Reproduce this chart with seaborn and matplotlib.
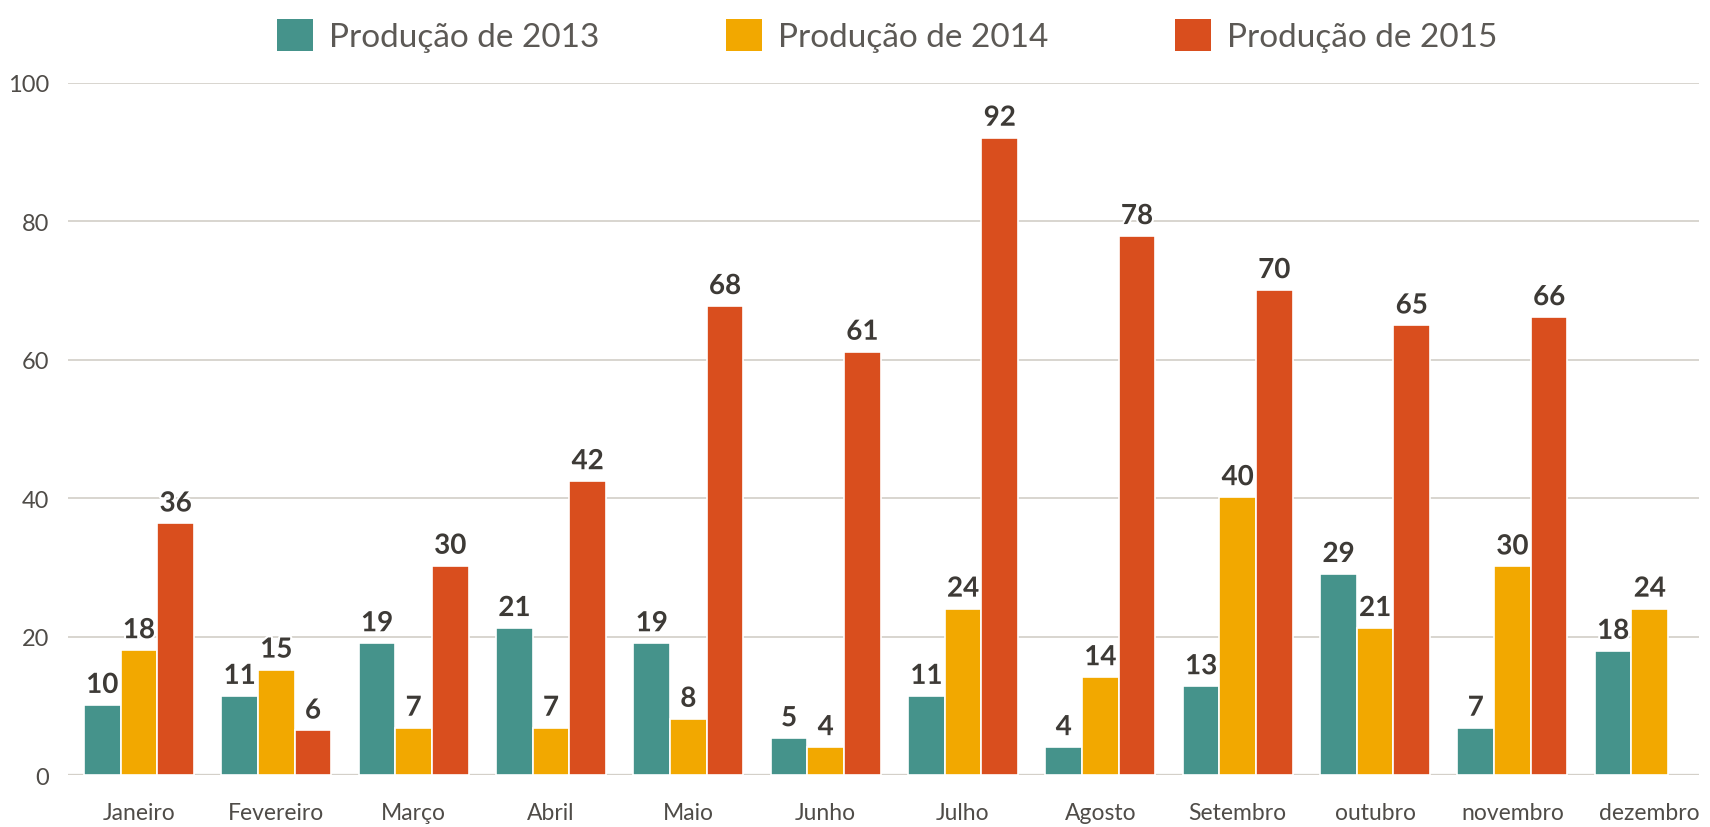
import numpy as np
import pandas as pd
import matplotlib
matplotlib.use("Agg")
import matplotlib.pyplot as plt
import matplotlib.patheffects as pe
from matplotlib.patches import Patch
import seaborn as sns

meses = ["Janeiro", "Fevereiro", "Março", "Abril", "Maio", "Junho", "Julho",
         "Agosto", "Setembro", "outubro", "novembro", "dezembro"]
series = ["Produção de 2013", "Produção de 2014", "Produção de 2015"]
prod_2013 = [10.2, 11.5, 19.1, 21.3, 19.1, 5.4, 11.5, 4.1, 12.9, 29.1, 6.9, 18.0]
prod_2014 = [18.1, 15.3, 6.9, 6.9, 8.2, 4.1, 24.1, 14.2, 40.2, 21.3, 30.2, 24.1]
prod_2015 = [36.4, 6.5, 30.3, 42.5, 67.8, 61.2, 92.1, 77.9, 70.1, 65.0, 66.2, np.nan]
rot_2013 = ["10", "11", "19", "21", "19", "5", "11", "4", "13", "29", "7", "18"]
rot_2014 = ["18", "15", "7", "7", "8", "4", "24", "14", "40", "21", "30", "24"]
rot_2015 = ["36", "6", "30", "42", "68", "61", "92", "78", "70", "65", "66", ""]
y_ticks = [0, 20, 40, 60, 80, 100]
cores = ["#45938b", "#f2a800", "#d94e1e"]

df = pd.DataFrame({
    "mes": meses * 3,
    "serie": [series[0]] * 12 + [series[1]] * 12 + [series[2]] * 12,
    "valor": prod_2013 + prod_2014 + prod_2015,
})

sns.set_style("white")
plt.rcParams["font.family"] = ["Lato", "DejaVu Sans"]

fig = plt.figure(figsize=(17.10, 8.28), dpi=100)
ax = fig.add_axes([0.0395, 0.0622, 0.9542, 0.8364])

sns.barplot(data=df, x="mes", y="valor", hue="serie", order=meses,
            hue_order=series, palette=cores, width=0.8, saturation=1,
            edgecolor="white", linewidth=1.2, ax=ax, legend=False)

for cont, rot in zip(ax.containers, [rot_2013, rot_2014, rot_2015]):
    for bar, r in zip(cont, rot):
        if bar is None or not r:
            continue
        h = bar.get_height()
        if not np.isfinite(h):
            continue
        t = ax.annotate(r, (bar.get_x() + bar.get_width() / 2, h),
                        xytext=(0, 5), textcoords="offset points",
                        ha="center", va="bottom", fontsize=20,
                        fontweight="bold", color="#3d3a36")
        t.set_path_effects([pe.withStroke(linewidth=3, foreground="white")])

ax.set_ylim(0, 100)
ax.set_xlim(-0.52, 11.36)
ax.set_yticks(y_ticks)
ax.set_yticklabels([str(v) for v in y_ticks])
ax.yaxis.grid(True, color="#d6d2cb", linewidth=1.3)
ax.set_axisbelow(True)
for s in ax.spines.values():
    s.set_visible(False)
ax.axhline(0, color="#c8c4bc", linewidth=1.6, zorder=0.5)
ax.tick_params(axis="both", length=0, labelcolor="#4f4c48")
ax.tick_params(axis="y", pad=13, labelsize=17)
ax.tick_params(axis="x", pad=19, labelsize=16.5)
ax.set_xlabel("")
ax.set_ylabel("")

handles = [Patch(facecolor=c, edgecolor="none") for c in cores]
fig.legend(handles, series, loc="upper center", bbox_to_anchor=(0.519, 1.012),
           ncol=3, frameon=False, fontsize=24, handlelength=1.08,
           handleheight=1.08, handletextpad=0.48, columnspacing=3.8,
           labelcolor="#5c5955")

fig.savefig("out.png", dpi=100)
